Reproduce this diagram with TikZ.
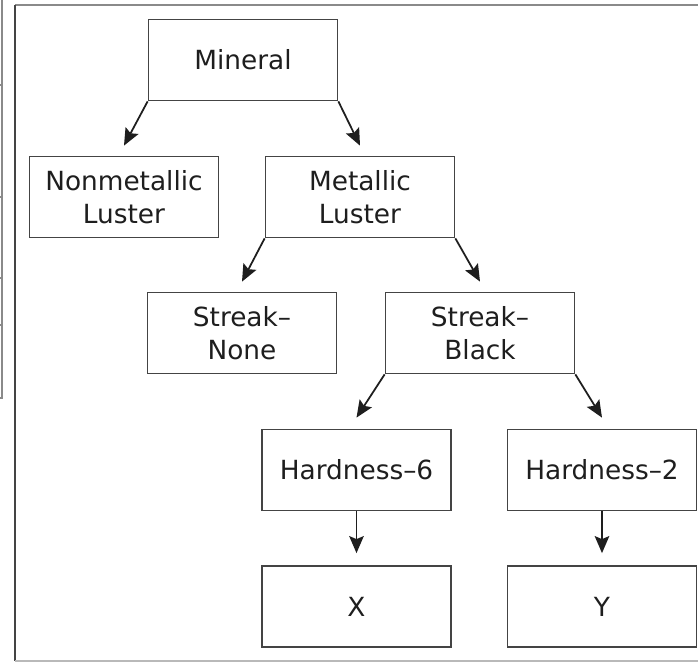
\documentclass[tikz,border=0pt]{standalone}
\usepackage{fontspec}
\setmainfont{DejaVu Sans}
\usetikzlibrary{arrows.meta, positioning}
\definecolor{boxgray}{HTML}{444444}
\definecolor{textgray}{HTML}{1E1E1E}
\definecolor{framegray}{HTML}{8A8A8A}
\tikzset{
    boxnode/.style = {draw=boxgray, rectangle, line width=1pt, minimum width=3.78cm, 
      minimum height=1.62cm, inner sep=0em, node distance=0em, text=textgray, 
      font=\fontsize{15}{19}\selectfont},
    connect/.style = {textgray, line width=1pt, -{Stealth[length=3.4mm, width=2.9mm, inset=0.6mm]}},
    every text node part/.style={align=center}
}

\begin{document}
\begin{tikzpicture}
    \useasboundingbox (0,0) rectangle (13.96,-13.24);

    % frame of the cropped figure
    \draw [framegray, line width=1.4pt] (0.30,-0.10) -- (13.96,-0.10);
    \draw [boxgray, line width=1.1pt] (0.30,-0.10) -- (0.30,-13.22);
    \draw [framegray!60, line width=0.6pt] (0.30,-13.22) -- (13.96,-13.22);
    \draw [framegray, line width=0.8pt] (0.04,0) -- (0.04,-7.96) -- (0,-7.96);
    \foreach \y in {1.70, 3.94, 5.56, 6.50}
        \draw [framegray, line width=0.6pt] (0,-\y) -- (0.04,-\y);

    \node [name=mineral, boxnode] at (4.86,-1.20) {Mineral};

    \node [name=nonmetal, boxnode, below of = mineral, xshift=-2.38cm, yshift=-2.74cm] 
        {Nonmetallic\\Luster};
    \node [name=metal, boxnode, below of = mineral, xshift=2.34cm, yshift=-2.74cm] 
        {Metallic\\Luster};

    \node [name=nostreak, boxnode, below of = metal, xshift=-2.36cm, yshift=-2.72cm] 
        {Streak--\\None};
    \node [name=blackstreak, boxnode, below of = metal, xshift=2.40cm, yshift=-2.72cm] 
        {Streak--\\Black};

    \node [name=hard6, boxnode, below of = blackstreak, xshift=-2.47cm, yshift=-2.74cm] 
        {Hardness--6};
    \node [name=hard2, boxnode, below of = blackstreak, xshift=2.44cm, yshift=-2.74cm] 
        {Hardness--2};

    \node [name=x, boxnode, below of = hard6, yshift=-2.73cm] {X};
    \node [name=y, boxnode, below of = hard2, yshift=-2.73cm] {Y};

    \draw (mineral.south west) edge[connect] ([yshift=0.2cm]nonmetal.north);
    \draw (mineral.south east) edge[connect] ([yshift=0.2cm]metal.north);
    \draw (metal.south west) edge[connect] ([yshift=0.2cm]nostreak.north);
    \draw (metal.south east) edge[connect] ([yshift=0.2cm]blackstreak.north);
    \draw (blackstreak.south west) edge[connect] ([yshift=0.22cm]hard6.north);
    \draw (blackstreak.south east) edge[connect] ([yshift=0.22cm]hard2.north);
    \draw (hard6) edge[connect] ([yshift=0.24cm]x.north);
    \draw (hard2) edge[connect] ([yshift=0.24cm]y.north);
\end{tikzpicture}
\end{document}
